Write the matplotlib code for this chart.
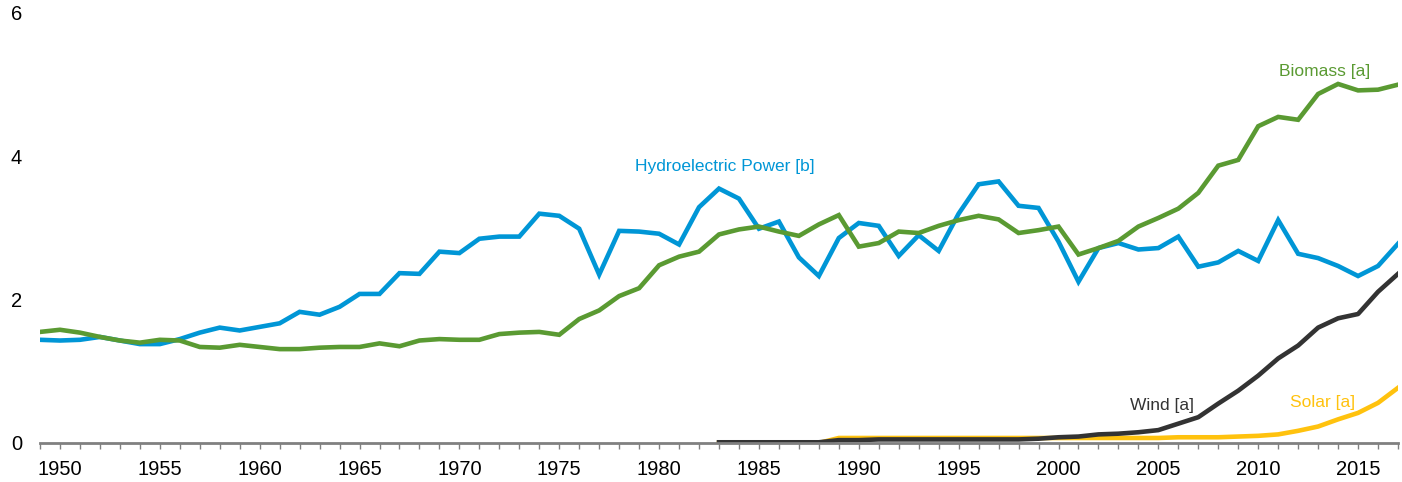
# Renewable energy consumption by source, 1949-2017
import matplotlib.pyplot as plt
from matplotlib import font_manager

years = list(range(1949, 2018))

hydro = [1.44, 1.43, 1.44, 1.48, 1.43, 1.38, 1.38, 1.45, 1.54, 1.61,
         1.57, 1.62, 1.67, 1.83, 1.79, 1.90, 2.08, 2.08, 2.37, 2.36,
         2.67, 2.65, 2.85, 2.88, 2.88, 3.20, 3.17, 2.99, 2.35, 2.96,
         2.95, 2.92, 2.77, 3.29, 3.55, 3.41, 2.99, 3.09, 2.59, 2.33,
         2.86, 3.07, 3.03, 2.61, 2.90, 2.68, 3.20, 3.61, 3.65, 3.31,
         3.28, 2.81, 2.25, 2.72, 2.79, 2.70, 2.72, 2.88, 2.46, 2.52,
         2.68, 2.54, 3.11, 2.64, 2.58, 2.47, 2.33, 2.47, 2.78]

biomass = [1.55, 1.58, 1.54, 1.48, 1.43, 1.40, 1.44, 1.43, 1.34, 1.33,
           1.37, 1.34, 1.31, 1.31, 1.33, 1.34, 1.34, 1.39, 1.35, 1.43,
           1.45, 1.44, 1.44, 1.52, 1.54, 1.55, 1.51, 1.73, 1.85, 2.05,
           2.16, 2.48, 2.60, 2.67, 2.91, 2.98, 3.02, 2.95, 2.89, 3.05,
           3.18, 2.74, 2.79, 2.95, 2.93, 3.03, 3.11, 3.17, 3.12, 2.93,
           2.97, 3.02, 2.63, 2.72, 2.82, 3.02, 3.14, 3.27, 3.49, 3.87,
           3.95, 4.42, 4.55, 4.51, 4.87, 5.01, 4.92, 4.93, 5.00]

years_new = list(range(1983, 2018))

wind = [0.01, 0.01, 0.01, 0.01, 0.01, 0.01, 0.04, 0.04, 0.05, 0.05,
        0.05, 0.05, 0.05, 0.05, 0.05, 0.05, 0.06, 0.08, 0.09, 0.12,
        0.13, 0.15, 0.18, 0.27, 0.36, 0.55, 0.73, 0.94, 1.18, 1.36,
        1.61, 1.74, 1.80, 2.11, 2.36]

solar = [0.00, 0.00, 0.00, 0.00, 0.00, 0.00, 0.07, 0.07, 0.07, 0.07,
         0.07, 0.07, 0.07, 0.07, 0.07, 0.07, 0.07, 0.07, 0.07, 0.07,
         0.07, 0.07, 0.07, 0.08, 0.08, 0.08, 0.09, 0.10, 0.12, 0.17,
         0.23, 0.33, 0.42, 0.56, 0.77]

blue = '#0096d6'
green = '#5a9a32'
dark = '#333333'
yellow = '#ffc20e'

# narrow Arial-like font if there is one, plain Liberation Sans otherwise
installed = {f.name for f in font_manager.fontManager.ttflist}
narrow = None
for name in ['Liberation Sans Narrow', 'Arial Narrow']:
    if name in installed:
        narrow = name
        break

if narrow:
    plt.rcParams['font.family'] = [narrow, 'DejaVu Sans']
    tick_size, label_size = 16, 14
else:
    plt.rcParams['font.family'] = ['Liberation Sans', 'DejaVu Sans']
    tick_size, label_size = 14.5, 12.5

fig = plt.figure(figsize=(14.02, 4.82), dpi=100)
ax = fig.add_axes([40/1402, 39/482, 1358/1402, 430/482])

ax.plot(years, hydro, color=blue, lw=3.3, solid_joinstyle='miter')
ax.plot(years, biomass, color=green, lw=3.3, solid_joinstyle='miter')
ax.plot(years_new, solar, color=yellow, lw=3.3)
ax.plot(years_new, wind, color=dark, lw=3.3)

ax.text(1978.8, 3.86, 'Hydroelectric Power [b]', color=blue, fontsize=label_size, va='center')
ax.text(2011.05, 5.19, 'Biomass [a]', color=green, fontsize=label_size, va='center')
ax.text(2003.6, 0.52, 'Wind [a]', color=dark, fontsize=label_size, va='center')
ax.text(2011.6, 0.56, 'Solar [a]', color=yellow, fontsize=label_size, va='center')

ax.set_xlim(1949, 2017)
ax.set_ylim(0, 6)
ax.set_yticks([0, 2, 4, 6])
ax.set_xticks(range(1950, 2017, 5))
ax.set_xticks(range(1949, 2018), minor=True)

for s in ['top', 'right', 'left']:
    ax.spines[s].set_visible(False)
ax.spines['bottom'].set_color('#808080')
ax.spines['bottom'].set_linewidth(2)

ax.tick_params(axis='y', length=0, pad=13, labelsize=tick_size)
ax.tick_params(axis='x', which='both', direction='out', length=4.5, width=1,
               color='#808080', pad=8, labelsize=tick_size)

plt.savefig('out.png', dpi=100)
